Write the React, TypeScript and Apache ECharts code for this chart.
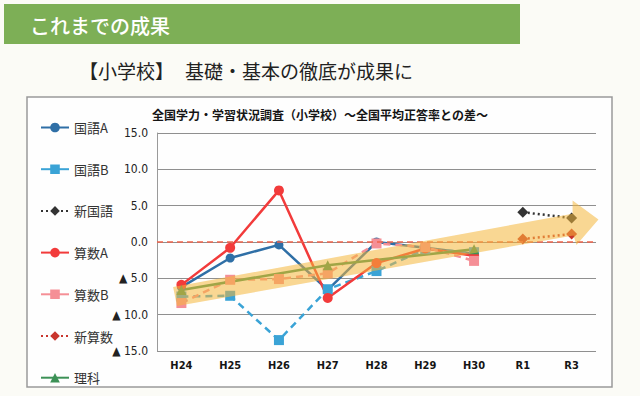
import React, { useEffect, useRef } from "react";
import * as echarts from "echarts";

const categories = ["H24", "H25", "H26", "H27", "H28", "H29", "H30", "R1", "R3"];
const kokugoA = [-6.2, -2.2, -0.4, -6.6, 0.0, -0.8, -1.6, null, null];
const kokugoB = [-7.5, -7.4, -13.5, -6.5, -4.0, -1.0, -1.4, null, null];
const shinKokugo = [null, null, null, null, null, null, null, 4.1, 3.3];
const sansuA = [-5.9, -0.8, 7.1, -7.7, -2.9, -0.9, -1.9, null, null];
const sansuB = [-8.4, -5.2, -5.1, -4.3, -0.2, -0.7, -2.6, null, null];
const shinSansu = [null, null, null, null, null, null, null, 0.4, 1.1];
const rika = [-6.6, null, null, -3.2, null, null, -1.0, null, null];

const seriesNames = ["国語A", "国語B", "新国語", "算数A", "算数B", "新算数", "理科"];
const chartTitle = "全国学力・学習状況調査（小学校）～全国平均正答率との差～";
const headerText = "これまでの成果";
const subLeft = "【小学校】";
const subRight = "基礎・基本の徹底が成果に";

// trend arrow outline in data space (category index, value)
const arrowOutline: [number, number][] = [
  [-0.17, -6.2],
  [8.02, 3.9],
  [8.02, 5.7],
  [8.55, 3.1],
  [8.1, -0.4],
  [8.04, 0.9],
  [-0.09, -8.8],
];

const FONT = "'Noto Sans CJK JP', 'Noto Sans', sans-serif";

function line(
  name: string,
  data: (number | null)[],
  color: string,
  lineType: any,
  symbol: string,
  size: number,
  extra: any = {}
) {
  return {
    name,
    type: "line",
    data,
    connectNulls: true,
    symbol,
    symbolSize: size,
    showSymbol: true,
    itemStyle: { color },
    lineStyle: { color, width: 2.5, type: lineType },
    emphasis: { disabled: true },
    ...extra,
  };
}

export default function App() {
  const ref = useRef<HTMLDivElement>(null);
  useEffect(() => {
    if (!ref.current) return;
    const chart = echarts.init(ref.current, null, { renderer: "svg" });
    chart.setOption({
      animation: false,
      backgroundColor: "#fbfbf6",
      textStyle: { fontFamily: FONT },
      title: {
        text: chartTitle,
        left: 147,
        top: 103,
        textStyle: { fontSize: 12, fontWeight: "bold", color: "#151515", fontFamily: FONT },
      },
      legend: {
        orient: "vertical",
        left: 35,
        top: 116,
        itemWidth: 28,
        itemHeight: 12,
        itemGap: 28.7,
        data: seriesNames.map((n) =>
          n === "国語B" || n === "算数B" ? { name: n, lineStyle: { type: "solid" } } : n
        ),
        textStyle: { fontSize: 13, color: "#333", fontFamily: FONT },
      },
      grid: { left: 157, right: 44, top: 133, bottom: 45, containLabel: false },
      xAxis: {
        type: "category",
        data: categories,
        boundaryGap: true,
        axisLine: { show: false },
        axisTick: { show: false },
        axisLabel: {
          margin: 9,
          fontSize: 11,
          fontWeight: "bold",
          color: "#151515",
          fontFamily: "'DejaVu Sans Condensed', 'DejaVu Sans', sans-serif",
        },
      },
      yAxis: {
        type: "value",
        min: -15,
        max: 15,
        interval: 5,
        axisLine: { show: true, lineStyle: { color: "#9a9a9a", width: 1 } },
        axisTick: { show: false },
        splitLine: { lineStyle: { color: "#8f8f8f", width: 1 } },
        axisLabel: {
          margin: 9,
          fontSize: 12,
          color: "#222",
          fontFamily: "'DejaVu Sans Condensed', 'DejaVu Sans', sans-serif",
          formatter: (v: number) => (v < 0 ? "▲ " + (-v).toFixed(1) : v.toFixed(1)),
        },
      },
      series: [
        line(seriesNames[0], kokugoA, "#2f6fa6", "solid", "circle", 9),
        line(seriesNames[1], kokugoB, "#3aa3d6", [7, 5], "rect", 10),
        line(seriesNames[2], shinKokugo, "#333333", [2, 3], "diamond", 11),
        line(seriesNames[3], sansuA, "#f23b3b", "solid", "circle", 10, {
          markLine: {
            silent: true,
            symbol: ["none", "none"],
            label: { show: false },
            lineStyle: { color: "#f0644c", type: [6, 4], width: 1.5 },
            data: [{ yAxis: 0 }],
          },
        }),
        line(seriesNames[4], sansuB, "#f58f96", [7, 5], "rect", 10),
        line(seriesNames[5], shinSansu, "#c9352d", [2, 3], "diamond", 11),
        line(seriesNames[6], rika, "#3c9156", "solid", "triangle", 10),
      ],
      graphic: [
        {
          id: "box",
          type: "rect",
          z: -10,
          shape: { x: 27, y: 97, width: 585, height: 290 },
          style: { fill: "#fefefe", stroke: "#9a9a9a", lineWidth: 1.5 },
        },
        {
          id: "header",
          type: "rect",
          z: -10,
          shape: { x: 4, y: 4, width: 516, height: 40 },
          style: { fill: "#7daf56" },
        },
        {
          id: "headerText",
          type: "text",
          x: 30,
          y: 25,
          style: {
            text: headerText,
            fill: "#ffffff",
            fontSize: 20,
            fontWeight: "500",
            fontFamily: FONT,
            verticalAlign: "middle",
          },
        },
        {
          id: "subLeft",
          type: "text",
          x: 79,
          y: 70,
          style: {
            text: subLeft,
            fill: "#222",
            fontSize: 19,
            fontFamily: FONT,
            verticalAlign: "middle",
          },
        },
        {
          id: "subRight",
          type: "text",
          x: 185,
          y: 70,
          style: {
            text: subRight,
            fill: "#222",
            fontSize: 19,
            fontFamily: FONT,
            verticalAlign: "middle",
          },
        },
      ],
    });

    const xa = chart.convertToPixel({ xAxisIndex: 0 }, categories[0]) as number;
    const xb = chart.convertToPixel({ xAxisIndex: 0 }, categories[categories.length - 1]) as number;
    const step = (xb - xa) / (categories.length - 1);
    const pts = arrowOutline.map(([i, v]) => [
      xa + i * step,
      chart.convertToPixel({ yAxisIndex: 0 }, v) as number,
    ]);
    chart.setOption({
      graphic: [
        {
          id: "arrow",
          type: "polygon",
          z: 100,
          silent: true,
          shape: { points: pts },
          style: { fill: "#f4b63a", opacity: 0.55 },
        },
      ],
    });

    return () => chart.dispose();
  }, []);
  return (
    <div
      ref={ref}
      style={{ position: "absolute", left: 0, top: 0, width: 640, height: 396 }}
    />
  );
}
